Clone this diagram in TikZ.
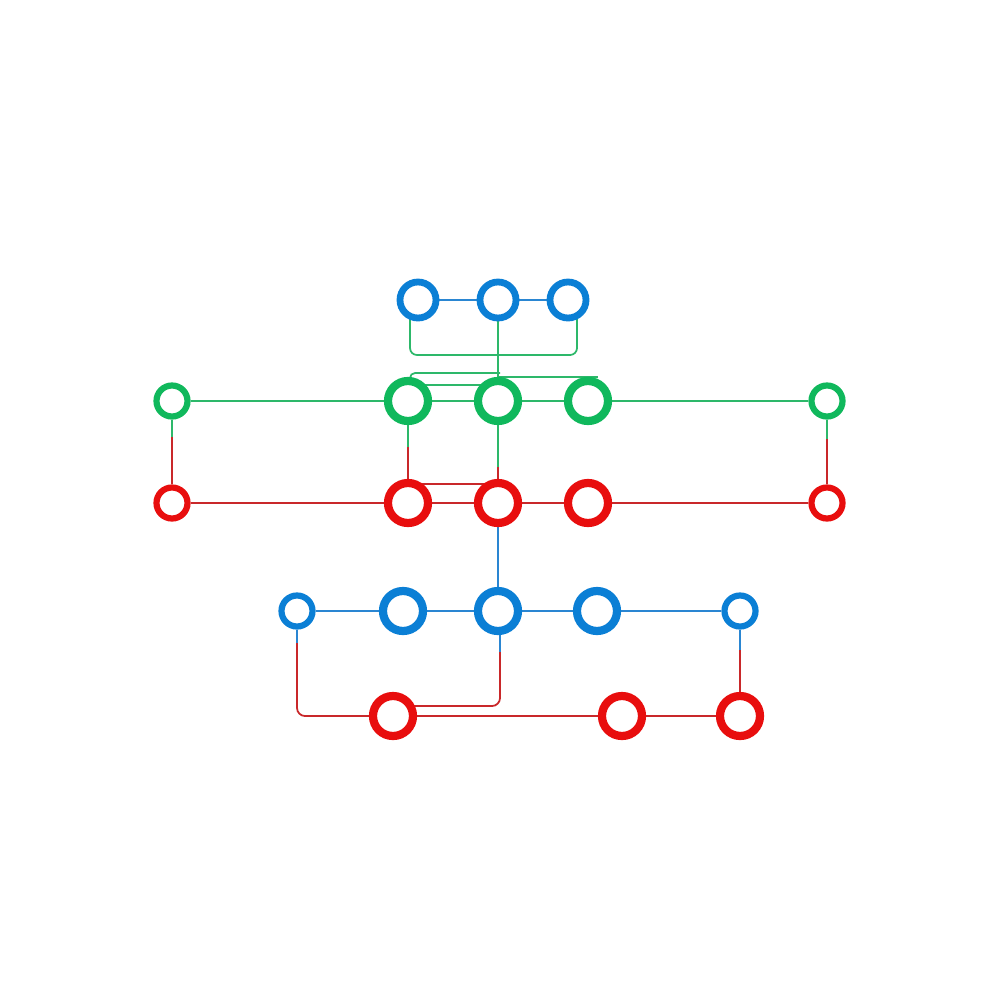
\documentclass[tikz,border=0pt]{standalone}
\usetikzlibrary{backgrounds,calc}
\definecolor{cblue}{HTML}{0B7FD5}
\definecolor{cgreen}{HTML}{10B85C}
\definecolor{cred}{HTML}{E80E0E}
\definecolor{lblue}{HTML}{2A86D2}
\definecolor{lgreen}{HTML}{2DB86A}
\definecolor{lred}{HTML}{C9282A}
\tikzset{
  ring/.style={circle,inner sep=0pt,fill=white},
  bigring/.style={ring,minimum size=0.40cm,line width=0.082cm},
  smallring/.style={ring,minimum size=0.31cm,line width=0.062cm},
  topring/.style={ring,minimum size=0.36cm,line width=0.068cm},
  lnk/.style={line width=0.5pt},
  bl/.style={lnk,draw=lblue},
  gl/.style={lnk,draw=lgreen},
  rl/.style={lnk,draw=lred},
}
\begin{document}
\begin{tikzpicture}[x=0.01cm,y=-0.01cm]
\useasboundingbox (0,0) rectangle (1000,1000);
% top blue row
\node[topring,draw=cblue] (b1) at (418,300) {};
\node[topring,draw=cblue] (b2) at (498,300) {};
\node[topring,draw=cblue] (b3) at (568,300) {};
% green row
\node[smallring,draw=cgreen] (g1) at (172,401) {};
\node[bigring,draw=cgreen] (g2) at (408,401) {};
\node[bigring,draw=cgreen] (g3) at (498,401) {};
\node[bigring,draw=cgreen] (g4) at (588,401) {};
\node[smallring,draw=cgreen] (g5) at (827,401) {};
% red row
\node[smallring,draw=cred] (r1) at (172,503) {};
\node[bigring,draw=cred] (r2) at (408,503) {};
\node[bigring,draw=cred] (r3) at (498,503) {};
\node[bigring,draw=cred] (r4) at (588,503) {};
\node[smallring,draw=cred] (r5) at (827,503) {};
% lower blue row
\node[smallring,draw=cblue] (c1) at (297,611) {};
\node[bigring,draw=cblue] (c2) at (403,611) {};
\node[bigring,draw=cblue] (c3) at (498,611) {};
\node[bigring,draw=cblue] (c4) at (597,611) {};
\node[smallring,draw=cblue] (c5) at (740,611) {};
% bottom red row
\node[bigring,draw=cred] (d1) at (393,716) {};
\node[bigring,draw=cred] (d2) at (622,716) {};
\node[bigring,draw=cred] (d3) at (740,716) {};

% helper coordinates
\coordinate (t1) at (500,373);
\coordinate (t2) at (598,377);
\coordinate (m1) at (172,437);
\coordinate (m2) at (408,447);
\coordinate (m3) at (498,467);
\coordinate (m5) at (827,439);
\coordinate (n1) at (297,643);
\coordinate (n3) at (500,652);
\coordinate (n5) at (740,650);

\begin{scope}[on background layer]
  % top row
  \draw[bl] (b1) -- (b2) -- (b3);
  \draw[gl,rounded corners=0.07cm] ($(b1.center)+(-8,0)$) -- (410,355) -- (577,355) -- ($(b3.center)+(9,0)$);
  \draw[gl] (b2) -- (g3);
  \draw[gl,rounded corners=0.05cm] ($(g2.center)+(2,0)$) -- (410,373) -- (t1);
  \draw[gl] (g3.north |- t2) -- (t2);
  % green row
  \draw[gl] (g1) -- (g2) -- (g3) -- (g4) -- (g5);
  \draw[gl] ($(g2.center)+(0,-16)$) -- ($(g3.center)+(0,-16)$);
  % green to red verticals
  \draw[gl] (g1) -- (m1); \draw[rl] (m1) -- (r1);
  \draw[gl] (g2) -- (m2); \draw[rl] (m2) -- (r2);
  \draw[gl] (g3) -- (m3); \draw[rl] (m3) -- (r3);
  \draw[gl] (g5) -- (m5); \draw[rl] (m5) -- (r5);
  % red row
  \draw[rl] (r1) -- (r2) -- (r3) -- (r4) -- (r5);
  \draw[rl] ($(r2.center)+(0,-19)$) -- ($(r3.center)+(0,-19)$);
  % red to lower blue
  \draw[bl] (r3) -- (c3);
  % lower blue row
  \draw[bl] (c1) -- (c2) -- (c3) -- (c4) -- (c5);
  % blue to bottom red
  \draw[bl] (c1) -- (n1);
  \draw[rl,rounded corners=0.08cm] (n1) -- (297,716) -- (d1);
  \draw[bl] ($(c3.center)+(2,0)$) -- (n3);
  \draw[rl,rounded corners=0.08cm] (n3) -- (500,706) -- ($(d1.center)+(0,-10)$);
  \draw[bl] (c5) -- (n5); \draw[rl] (n5) -- (d3);
  % bottom red row
  \draw[rl] (d1) -- (d2) -- (d3);
\end{scope}
\end{tikzpicture}
\end{document}
